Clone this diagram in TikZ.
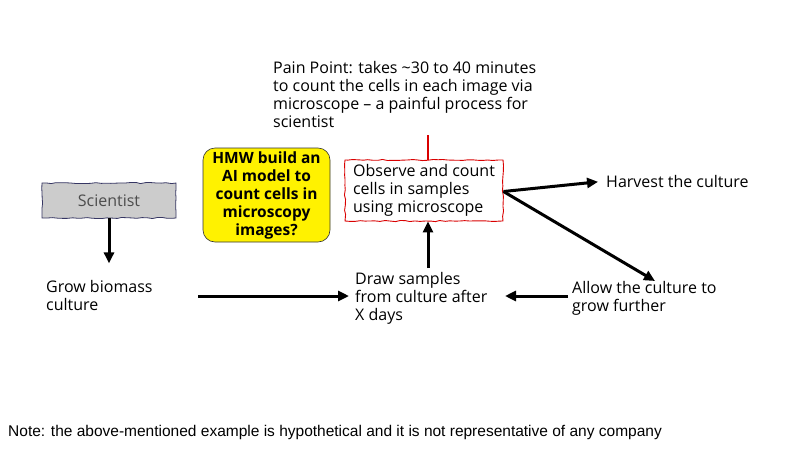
\documentclass[tikz,border=0pt]{standalone}
\usepackage{fontspec}
\setmainfont{Open Sans}
\newfontfamily\notefont{Liberation Sans}
\usepackage{tikz}
\usetikzlibrary{positioning, arrows.meta, decorations.pathmorphing}

\begin{document}
\begin{tikzpicture}[
    x=1pt, y=-1pt,
    hand/.style={font=\fontsize{16}{18}\selectfont, align=left, inner sep=0pt, anchor=north west},
    wavy/.style={decorate, decoration={random steps, segment length=5pt, amplitude=0.6pt}},
    arrow/.style={-{Triangle[length=11pt, width=10pt]}, line width=3pt},
]
\useasboundingbox (0,0) rectangle (800,450);

% Scientist box
\node[wavy, draw=gray!70!blue!60!black, fill=gray!40, line width=0.8pt, minimum width=134pt, minimum height=35pt,
      font=\fontsize{16}{18}\selectfont, text=black!70] (scientist) at (109,200.5) {Scientist};

% Steps of the process
\node[hand] (grow) at (46,280) {Grow biomass\\culture};
\node[hand] (draw) at (355,272) {Draw samples\\from culture after\\X days};
\node[hand] (allow) at (572,281) {Allow the culture to\\grow further};
\node[hand, anchor=west] (harvest) at (606,181) {Harvest the culture};

% Observe box (red)
\node[wavy, draw=red!85!black, line width=0.9pt, minimum width=158pt, minimum height=61pt, align=left, inner sep=3pt,
      font=\fontsize{16}{18}\selectfont] (observe) at (424,190.5) {Observe and count\\cells in samples\\using microscope};

% Pain point
\node[hand] (painpoint) at (273,61) {Pain Point: takes \textasciitilde30 to 40 minutes\\to count the cells in each image via\\microscope -- a painful process for\\scientist};
\draw[red!85!black, line width=1.4pt] ([xshift=4pt]observe.north) -- ++(0,-25);

% HMW box
\node[draw=black!80, fill=yellow, line width=0.6pt, minimum width=127pt, minimum height=94pt,
      rounded corners=12pt, align=center, inner sep=1pt, font=\fontsize{15.5}{18}\selectfont\bfseries] (hmw) at (266.5,195)
      {HMW build an\\AI model to\\count cells in\\microscopy\\images?};

% Arrows
\draw[arrow] (scientist.south) -- ++(0,45);
\draw[arrow, shorten >=6pt] (198,296) -- (draw.west |- 0,296);
\draw[arrow] (568,296) -- (505,296);
\draw[arrow] (428,268) -- ([xshift=4pt]observe.south);
\draw[arrow, shorten >=8pt] ([yshift=-1pt]observe.east) -- (harvest.west);
\draw[arrow] ([yshift=-1pt]observe.east) -- ([xshift=83pt]allow.north west);

% Note
\node[font=\notefont\fontsize{15.5}{16}\selectfont, anchor=west, inner sep=0pt] (note) at (8,432)
  {Note: the above-mentioned example is hypothetical and it is not representative of any company};
\end{tikzpicture}
\end{document}
